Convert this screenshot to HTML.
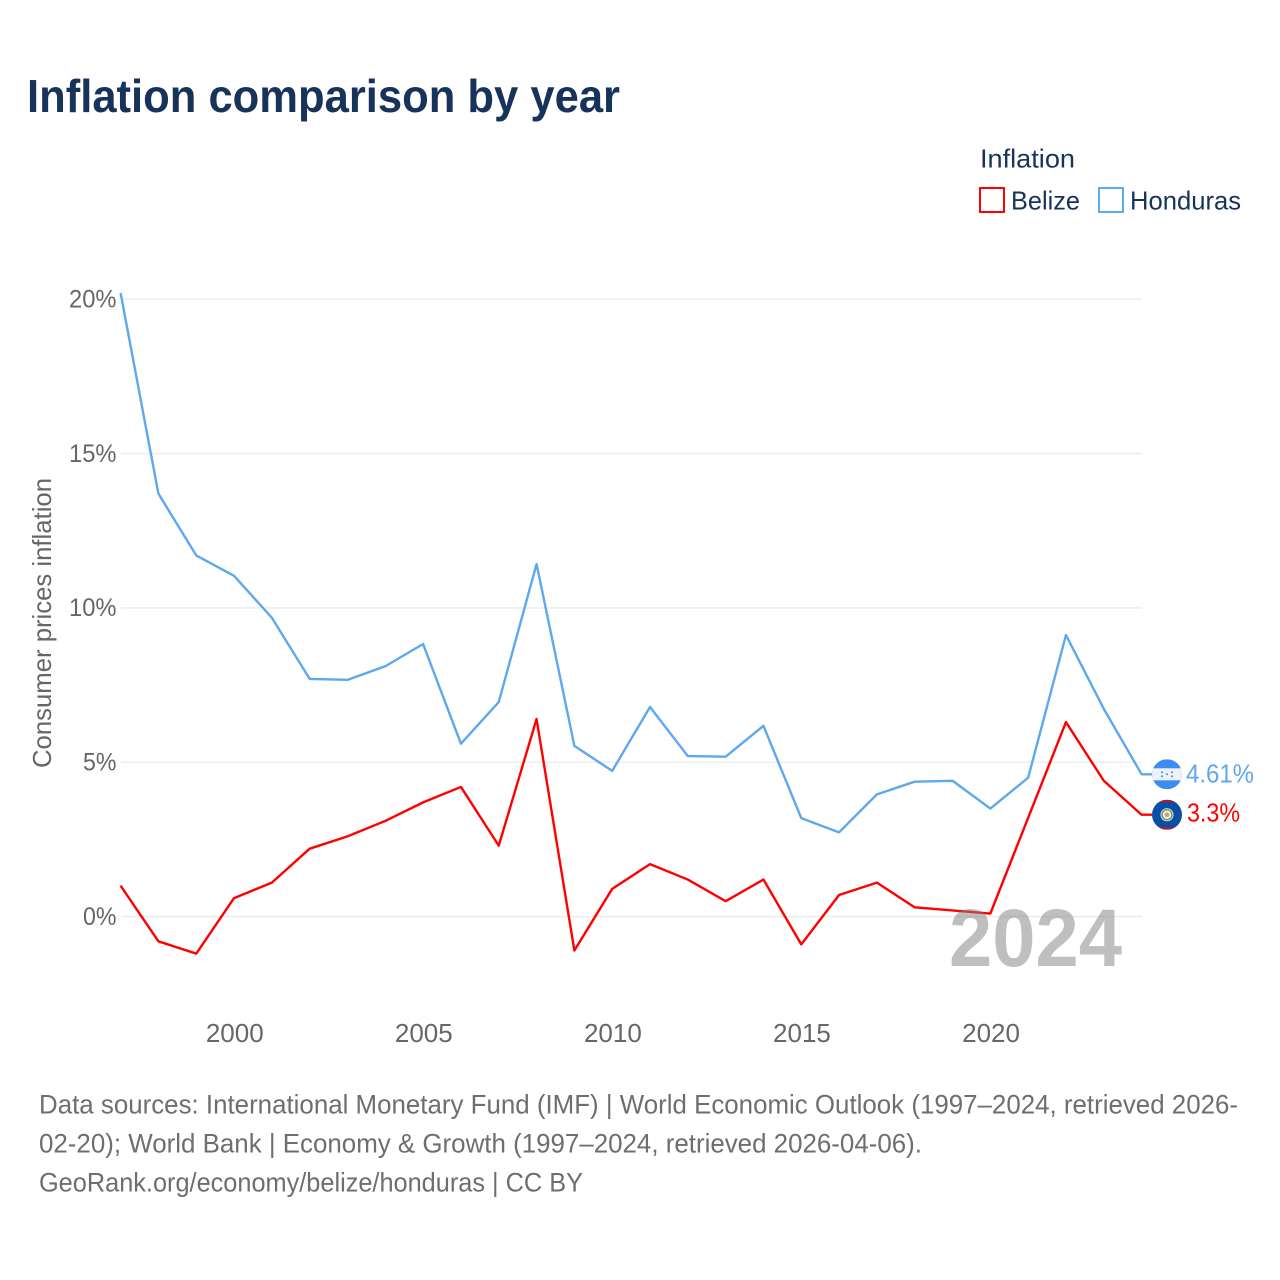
<!DOCTYPE html>
<html lang="en">
<head>
<meta charset="utf-8">
<title>Inflation comparison by year</title>
<style>
html,body{margin:0;padding:0;background:#fff;}
svg{display:block;font-family:"Liberation Sans",sans-serif;}
</style>
</head>
<body>
<svg id="chart" xmlns="http://www.w3.org/2000/svg" width="1280" height="1280" viewBox="0 0 1280 1280">
  <defs>
    <clipPath id="flag-clip"><circle cx="0" cy="0" r="15"></circle></clipPath>
  </defs>
  <rect x="0" y="0" width="1280" height="1280" fill="#ffffff"></rect>
  <text x="27" y="112" font-size="46" font-weight="700" fill="#18335a" textLength="593" lengthAdjust="spacingAndGlyphs">Inflation comparison by year</text>

  <text x="980" y="167.5" font-size="26" fill="#18335a" textLength="95" lengthAdjust="spacingAndGlyphs">Inflation</text>
  <rect x="980" y="188" width="24" height="24" fill="none" stroke="#ff0000" stroke-width="2"></rect>
  <text x="1011" y="209.5" font-size="26" fill="#18335a" textLength="69" lengthAdjust="spacingAndGlyphs">Belize</text>
  <rect x="1099" y="188" width="24" height="24" fill="none" stroke="#5ea8ee" stroke-width="2"></rect>
  <text x="1130" y="209.5" font-size="26" fill="#18335a" textLength="111" lengthAdjust="spacingAndGlyphs">Honduras</text>

  <g id="grid"></g>
  <g id="y-ticks"></g>
  <g id="x-ticks"></g>

  <text transform="translate(51,768) rotate(-90)" x="0" y="0" font-size="26" fill="#666666" textLength="290" lengthAdjust="spacingAndGlyphs">Consumer prices inflation</text>

  <g id="series"></g>

  <text x="949" y="966" font-size="82" font-weight="700" fill="#808080" fill-opacity="0.5" textLength="173" lengthAdjust="spacingAndGlyphs">2024</text>

  <g id="flag-honduras">
    <g clip-path="url(#flag-clip)">
      <rect x="-15" y="-15" width="30" height="30" fill="#3d8df0"></rect>
      <rect x="-15" y="-6" width="30" height="12" fill="#eef1f5"></rect>
      <circle cx="0" cy="0" r="1" fill="#3d8df0"></circle>
      <circle cx="-5" cy="-2" r="1" fill="#3d8df0"></circle>
      <circle cx="5" cy="-2" r="1" fill="#3d8df0"></circle>
      <circle cx="-5" cy="2" r="1" fill="#3d8df0"></circle>
      <circle cx="5" cy="2" r="1" fill="#3d8df0"></circle>
    </g>
  </g>
  <g id="flag-belize">
    <g clip-path="url(#flag-clip)">
      <rect x="-15" y="-15" width="30" height="30" fill="#0b4ea8"></rect>
      <rect x="-15" y="-15" width="30" height="2.5" fill="#b01c2e"></rect>
      <rect x="-15" y="12.5" width="30" height="2.5" fill="#b01c2e"></rect>
      <circle cx="0" cy="0" r="6.5" fill="#f1f3ee"></circle>
      <circle cx="0" cy="0" r="5" fill="none" stroke="#6f9a5a" stroke-width="1.5"></circle>
      <circle cx="0" cy="0" r="2.4" fill="#c9a27a"></circle>
    </g>
  </g>
  <text id="end-label-honduras" x="1186" y="781" font-size="26" fill="#5ea8ee" textLength="68" lengthAdjust="spacingAndGlyphs"></text>
  <text id="end-label-belize" x="1187" y="821" font-size="26" fill="#ff0000" textLength="53" lengthAdjust="spacingAndGlyphs"></text>

  <g font-size="27" fill="#6e6e6e">
    <text x="39" y="1113.5" textLength="1199" lengthAdjust="spacingAndGlyphs">Data sources: International Monetary Fund (IMF) | World Economic Outlook (1997–2024, retrieved 2026-</text>
    <text x="39" y="1152.5" textLength="883" lengthAdjust="spacingAndGlyphs">02-20); World Bank | Economy &amp; Growth (1997–2024, retrieved 2026-04-06).</text>
    <text x="39" y="1191.5" textLength="544" lengthAdjust="spacingAndGlyphs">GeoRank.org/economy/belize/honduras | CC BY</text>
  </g>
</svg>
<script>
const years = [1997,1998,1999,2000,2001,2002,2003,2004,2005,2006,2007,2008,2009,2010,2011,2012,2013,2014,2015,2016,2017,2018,2019,2020,2021,2022,2023,2024];
const honduras = [20.2,13.7,11.7,11.04,9.68,7.7,7.67,8.11,8.83,5.6,6.95,11.42,5.53,4.72,6.79,5.2,5.18,6.18,3.19,2.73,3.96,4.37,4.4,3.5,4.5,9.12,6.73,4.61];
const belize = [1.0,-0.8,-1.2,0.6,1.1,2.2,2.6,3.1,3.7,4.2,2.3,6.4,-1.1,0.9,1.7,1.2,0.5,1.2,-0.9,0.7,1.1,0.3,0.2,0.1,3.2,6.3,4.4,3.3];
const yTickValues = [0,5,10,15,20];
const xTickValues = [2000,2005,2010,2015,2020];

const NS = 'http://www.w3.org/2000/svg';
function xScale(year){ return 120.6 + (year - 1997) * 37.815; }
function yScale(v){ return 916.6 - v * 30.87; }

const gridGroup = document.getElementById('grid');
const yGroup = document.getElementById('y-ticks');
const xGroup = document.getElementById('x-ticks');
const seriesGroup = document.getElementById('series');

yTickValues.forEach(function(v){
  const line = document.createElementNS(NS, 'line');
  
  
  line.setAttribute('x1', 121);
  line.setAttribute('x2', 1142);
  line.setAttribute('y1', yScale(v));
  line.setAttribute('y2', yScale(v));
  line.setAttribute('stroke', '#eeeeee');
  line.setAttribute('stroke-width', 1.6);
  gridGroup.appendChild(line);

  const label = document.createElementNS(NS, 'text');
  
  
  label.setAttribute('x', 116.5);
  label.setAttribute('y', yScale(v) + 8.3);
  label.setAttribute('text-anchor', 'end');
  label.setAttribute('font-size', 25);
  label.setAttribute('fill', '#666666');
  label.setAttribute('textLength', v >= 10 ? 47.5 : 33.5);
  label.setAttribute('lengthAdjust', 'spacingAndGlyphs');
  label.textContent = v + '%';
  yGroup.appendChild(label);
});

xTickValues.forEach(function(year){
  const label = document.createElementNS(NS, 'text');
  
  
  label.setAttribute('x', xScale(year) + 0.7);
  label.setAttribute('y', 1042);
  label.setAttribute('text-anchor', 'middle');
  label.setAttribute('font-size', 26);
  label.setAttribute('fill', '#666666');
  label.textContent = year;
  xGroup.appendChild(label);
});

function linePoints(values){
  const pts = values.map(function(v, i){ return xScale(years[i]).toFixed(2) + ',' + yScale(v).toFixed(2); });
  pts.push('1152,' + yScale(values[values.length - 1]).toFixed(2));
  return pts.join(' ');
}

const belizeLine = document.createElementNS(NS, 'polyline');


belizeLine.setAttribute('points', linePoints(belize));
belizeLine.setAttribute('fill', 'none');
belizeLine.setAttribute('stroke', '#ff0000');
belizeLine.setAttribute('stroke-width', 2.4);
belizeLine.setAttribute('stroke-linejoin', 'round');
seriesGroup.appendChild(belizeLine);

const hondurasLine = document.createElementNS(NS, 'polyline');


hondurasLine.setAttribute('points', linePoints(honduras));
hondurasLine.setAttribute('fill', 'none');
hondurasLine.setAttribute('stroke', '#5ea8ee');
hondurasLine.setAttribute('stroke-width', 2.4);
hondurasLine.setAttribute('stroke-linejoin', 'round');
seriesGroup.appendChild(hondurasLine);

const lastH = honduras[honduras.length - 1];
const lastB = belize[belize.length - 1];
document.getElementById('flag-honduras').setAttribute('transform', 'translate(1167,' + yScale(lastH) + ')');
document.getElementById('flag-belize').setAttribute('transform', 'translate(1167,' + yScale(lastB) + ')');
const endH = document.getElementById('end-label-honduras');
endH.textContent = lastH + '%';
endH.setAttribute('y', yScale(lastH) + 8);
const endB = document.getElementById('end-label-belize');
endB.textContent = lastB + '%';
endB.setAttribute('y', yScale(lastB) + 7);
</script>
</body>
</html>
